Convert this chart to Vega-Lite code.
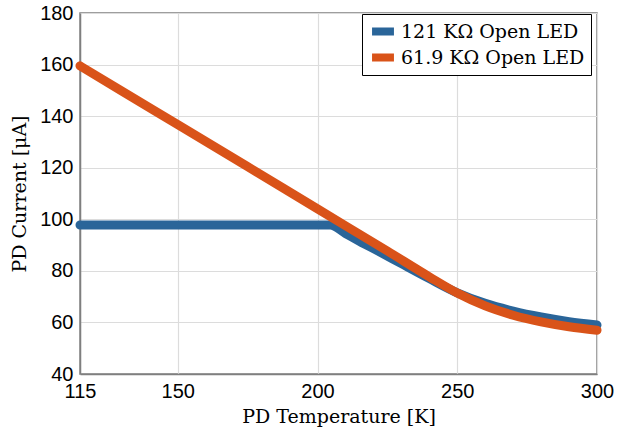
{
  "$schema": "https://vega.github.io/schema/vega-lite/v6.json",
  "width": 517,
  "height": 361,
  "autosize": {"type": "none"},
  "padding": {"left": 80, "top": 13, "right": 20, "bottom": 63},
  "background": "white",
  "config": {
    "view": {"stroke": "#7f7f7f", "strokeWidth": 1.5},
    "axis": {
      "domainColor": "#7f7f7f",
      "domainWidth": 1.5,
      "gridColor": "#dcdcdc",
      "gridWidth": 1.2,
      "ticks": false,
      "labelFont": "Liberation Sans",
      "labelFontSize": 20,
      "labelColor": "black",
      "titleFont": "DejaVu Serif",
      "titleFontSize": 19,
      "titleFontWeight": "normal",
      "titleColor": "black"
    }
  },
  "data": {
    "values": [
      {"series": "121 KΩ Open LED", "T": 115, "I": 97.8},
      {"series": "121 KΩ Open LED", "T": 130, "I": 97.8},
      {"series": "121 KΩ Open LED", "T": 150, "I": 97.8},
      {"series": "121 KΩ Open LED", "T": 175, "I": 97.8},
      {"series": "121 KΩ Open LED", "T": 200, "I": 97.8},
      {"series": "121 KΩ Open LED", "T": 204.5, "I": 97.8},
      {"series": "121 KΩ Open LED", "T": 210, "I": 94.5},
      {"series": "121 KΩ Open LED", "T": 215, "I": 91.5},
      {"series": "121 KΩ Open LED", "T": 222, "I": 87.5},
      {"series": "121 KΩ Open LED", "T": 230, "I": 82.8},
      {"series": "121 KΩ Open LED", "T": 240, "I": 77},
      {"series": "121 KΩ Open LED", "T": 250, "I": 71.5},
      {"series": "121 KΩ Open LED", "T": 260, "I": 67.4},
      {"series": "121 KΩ Open LED", "T": 270, "I": 64.4},
      {"series": "121 KΩ Open LED", "T": 280, "I": 62.1},
      {"series": "121 KΩ Open LED", "T": 290, "I": 60.3},
      {"series": "121 KΩ Open LED", "T": 300, "I": 59},
      {"series": "61.9 KΩ Open LED", "T": 115, "I": 159.5},
      {"series": "61.9 KΩ Open LED", "T": 130, "I": 149.7},
      {"series": "61.9 KΩ Open LED", "T": 150, "I": 136.7},
      {"series": "61.9 KΩ Open LED", "T": 175, "I": 120.4},
      {"series": "61.9 KΩ Open LED", "T": 200, "I": 104},
      {"series": "61.9 KΩ Open LED", "T": 225, "I": 87.7},
      {"series": "61.9 KΩ Open LED", "T": 240, "I": 77.7},
      {"series": "61.9 KΩ Open LED", "T": 250, "I": 71.4},
      {"series": "61.9 KΩ Open LED", "T": 260, "I": 66.4},
      {"series": "61.9 KΩ Open LED", "T": 270, "I": 62.8},
      {"series": "61.9 KΩ Open LED", "T": 280, "I": 60.2},
      {"series": "61.9 KΩ Open LED", "T": 290, "I": 58.3},
      {"series": "61.9 KΩ Open LED", "T": 300, "I": 57}
    ]
  },
  "mark": {"type": "line", "strokeWidth": 9, "strokeCap": "round", "strokeJoin": "round", "clip": false, "interpolate": "monotone"},
  "encoding": {
    "x": {
      "field": "T",
      "type": "quantitative",
      "scale": {"domain": [115, 300], "nice": false, "zero": false},
      "axis": {
        "values": [115, 150, 200, 250, 300],
        "title": "PD Temperature [K]",
        "labelFlush": false,
        "labelOverlap": false,
        "labelPadding": 7,
        "titlePadding": 6
      }
    },
    "y": {
      "field": "I",
      "type": "quantitative",
      "scale": {"domain": [40, 180], "nice": false, "zero": false},
      "axis": {
        "values": [40, 60, 80, 100, 120, 140, 160, 180],
        "title": "PD Current [μA]",
        "labelPadding": 7,
        "labelOverlap": false,
        "titlePadding": 10
      }
    },
    "color": {
      "field": "series",
      "type": "nominal",
      "scale": {"domain": ["121 KΩ Open LED", "61.9 KΩ Open LED"], "range": ["#2A6599", "#D95319"]},
      "legend": {
        "title": null,
        "orient": "none",
        "legendX": 282,
        "legendY": 1,
        "strokeColor": "black",
        "fillColor": "white",
        "padding": 6,
        "cornerRadius": 0,
        "symbolType": "stroke",
        "symbolStrokeWidth": 8,
        "symbolSize": 480,
        "labelFont": "DejaVu Serif",
        "labelFontSize": 19,
        "labelColor": "black",
        "labelLimit": 400,
        "labelOffset": 3,
        "clipHeight": 23,
        "rowPadding": 3
      }
    }
  }
}
